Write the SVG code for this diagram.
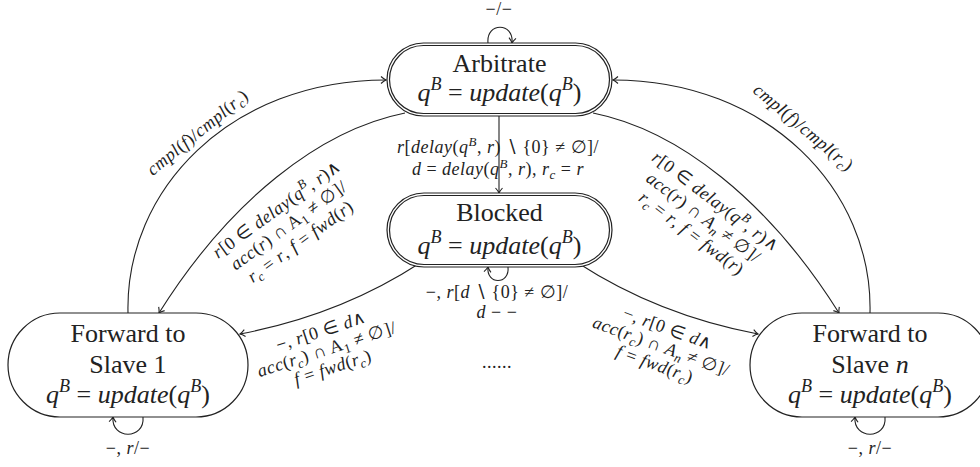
<svg xmlns="http://www.w3.org/2000/svg" width="980" height="467" viewBox="0 0 980 467">
<style>
.n{fill:#fff;stroke:#222;stroke-width:1.2}
.e{fill:none;stroke:#222;stroke-width:1.1;marker-end:url(#a)}
.t{font-size:26px;text-anchor:middle}
.l{font-size:18px;text-anchor:middle;letter-spacing:0.5px}
.i{font-style:italic}
.s{font-size:18px;font-style:italic}
.ss{font-size:13px}
</style>
<defs>
<marker id="a" viewBox="-6 -5 7 10" refX="0" refY="0" markerWidth="7" markerHeight="10" orient="auto" markerUnits="userSpaceOnUse">
<path d="M-5,-3.5 Q-2,-0.8 0,0 Q-2,0.8 -5,3.5" fill="none" stroke="#222" stroke-width="1.1"/>
</marker>
</defs>
<rect width="980" height="467" fill="#fff"/>

<g id="connectors">
<path class="e" d="M499,116 L499,193"/>
<path class="e" d="M128,313 C125,190 230,80 386,80"/>
<path class="e" d="M870,313 C873,190 768,80 613,80"/>
<path class="e" d="M405,113 C320,130 230,200 159,313"/>
<path class="e" d="M593,113 C678,130 768,200 839,313"/>
<path class="e" d="M420,263 Q340,315 240,334"/>
<path class="e" d="M578,263 Q658,315 758,334"/>
<path class="e" d="M488,43 C486,22 514,22 512,43"/>
<path class="e" d="M508,267 C510,285 486,285 488,267"/>
<path class="e" d="M143,417 C145,440 111,440 113,417"/>
<path class="e" d="M885,417 C887,440 853,440 855,417"/>
</g>

<g font-family="'Liberation Serif', 'Times New Roman', serif" fill="#222">
<g id="arbitrate">
<rect class="n" x="387" y="43" width="225" height="73" rx="36.5"/>
<rect class="n" x="389.5" y="45.5" width="220" height="68" rx="34"/>
<text class="t" x="499.5" y="72">Arbitrate</text>
<text class="t" x="499.5" y="101"><tspan class="i">q</tspan><tspan class="s" dy="-11">B</tspan><tspan dy="11"> = </tspan><tspan class="i">update</tspan>(<tspan class="i">q</tspan><tspan class="s" dy="-11">B</tspan><tspan dy="11">)</tspan></text>
</g>

<g id="blocked">
<rect class="n" x="387" y="193" width="225" height="74" rx="37"/>
<rect class="n" x="389.5" y="195.5" width="220" height="69" rx="34.5"/>
<text class="t" x="499.5" y="221">Blocked</text>
<text class="t" x="499.5" y="254"><tspan class="i">q</tspan><tspan class="s" dy="-11">B</tspan><tspan dy="11"> = </tspan><tspan class="i">update</tspan>(<tspan class="i">q</tspan><tspan class="s" dy="-11">B</tspan><tspan dy="11">)</tspan></text>
</g>

<g id="slave1">
<rect class="n" x="8" y="313" width="240" height="104" rx="52"/>
<text class="t" x="128" y="342">Forward to</text>
<text class="t" x="128" y="373">Slave 1</text>
<text class="t" x="128" y="403"><tspan class="i">q</tspan><tspan class="s" dy="-11">B</tspan><tspan dy="11"> = </tspan><tspan class="i">update</tspan>(<tspan class="i">q</tspan><tspan class="s" dy="-11">B</tspan><tspan dy="11">)</tspan></text>
</g>

<g id="slaven">
<rect class="n" x="750" y="313" width="240" height="104" rx="52"/>
<text class="t" x="870" y="342">Forward to</text>
<text class="t" x="870" y="373">Slave <tspan class="i">n</tspan></text>
<text class="t" x="870" y="403"><tspan class="i">q</tspan><tspan class="s" dy="-11">B</tspan><tspan dy="11"> = </tspan><tspan class="i">update</tspan>(<tspan class="i">q</tspan><tspan class="s" dy="-11">B</tspan><tspan dy="11">)</tspan></text>
</g>

<g id="labels">
<text class="l" x="499" y="15">−/−</text>
<text class="l" x="128" y="454">−, <tspan class="i">r</tspan>/−</text>
<text class="l" x="870" y="454">−, <tspan class="i">r</tspan>/−</text>
<text class="l" x="497" y="368">......</text>

<text class="l" x="498" y="153"><tspan class="i">r</tspan>[<tspan class="i">delay</tspan>(<tspan class="i">q</tspan><tspan class="ss i" dy="-7">B</tspan><tspan dy="7">, </tspan><tspan class="i">r</tspan>) ∖ {0} ≠ ∅]/</text>
<text class="l" x="498" y="175"><tspan class="i">d</tspan> = <tspan class="i">delay</tspan>(<tspan class="i">q</tspan><tspan class="ss i" dy="-7">B</tspan><tspan dy="7">, </tspan><tspan class="i">r</tspan>), <tspan class="i">r</tspan><tspan class="ss i" dy="4">c</tspan><tspan dy="-4"> = </tspan><tspan class="i">r</tspan></text>

<text class="l" x="497" y="298">−, <tspan class="i">r</tspan>[<tspan class="i">d</tspan> ∖ {0} ≠ ∅]/</text>
<text class="l" x="497" y="318"><tspan class="i">d</tspan> − −</text>

<g transform="translate(198,133) rotate(-39)">
<text class="l" x="0" y="5"><tspan class="i">cmpl</tspan>(<tspan class="i">f</tspan>)/<tspan class="i">cmpl</tspan>(<tspan class="i">r</tspan><tspan class="ss i" dy="4">c</tspan><tspan dy="-4">)</tspan></text>
</g>
<g transform="translate(803,128) rotate(40)">
<text class="l" x="0" y="5"><tspan class="i">cmpl</tspan>(<tspan class="i">f</tspan>)/<tspan class="i">cmpl</tspan>(<tspan class="i">r</tspan><tspan class="ss i" dy="4">c</tspan><tspan dy="-4">)</tspan></text>
</g>

<g transform="translate(289,226) rotate(-36)">
<text class="l" x="0" y="-15"><tspan class="i">r</tspan>[0 ∈ <tspan class="i">delay</tspan>(<tspan class="i">q</tspan><tspan class="ss i" dy="-7">B</tspan><tspan dy="7">, </tspan><tspan class="i">r</tspan>)∧</text>
<text class="l" x="0" y="5"><tspan class="i">acc</tspan>(<tspan class="i">r</tspan>) ∩ A<tspan class="ss" dy="4">1</tspan><tspan dy="-4"> ≠ ∅]/</tspan></text>
<text class="l" x="0" y="25"><tspan class="i">r</tspan><tspan class="ss i" dy="4">c</tspan><tspan dy="-4"> = </tspan><tspan class="i">r</tspan>, <tspan class="i">f</tspan> = <tspan class="i">fwd</tspan>(<tspan class="i">r</tspan>)</text>
</g>

<g transform="translate(703,218) rotate(37)">
<text class="l" x="0" y="-15"><tspan class="i">r</tspan>[0 ∈ <tspan class="i">delay</tspan>(<tspan class="i">q</tspan><tspan class="ss i" dy="-7">B</tspan><tspan dy="7">, </tspan><tspan class="i">r</tspan>)∧</text>
<text class="l" x="0" y="5"><tspan class="i">acc</tspan>(<tspan class="i">r</tspan>) ∩ <tspan class="i">A</tspan><tspan class="ss i" dy="4">n</tspan><tspan dy="-4"> ≠ ∅]/</tspan></text>
<text class="l" x="0" y="25"><tspan class="i">r</tspan><tspan class="ss i" dy="4">c</tspan><tspan dy="-4"> = </tspan><tspan class="i">r</tspan>, <tspan class="i">f</tspan> = <tspan class="i">fwd</tspan>(<tspan class="i">r</tspan>)</text>
</g>

<g transform="translate(327,350) rotate(-18)">
<text class="l" x="0" y="-14">−, <tspan class="i">r</tspan>[0 ∈ <tspan class="i">d</tspan>∧</text>
<text class="l" x="0" y="5"><tspan class="i">acc</tspan>(<tspan class="i">r</tspan><tspan class="ss i" dy="4">c</tspan><tspan dy="-4">) ∩ A</tspan><tspan class="ss" dy="4">1</tspan><tspan dy="-4"> ≠ ∅]/</tspan></text>
<text class="l" x="0" y="24"><tspan class="i">f</tspan> = <tspan class="i">fwd</tspan>(<tspan class="i">r</tspan><tspan class="ss i" dy="4">c</tspan><tspan dy="-4">)</tspan></text>
</g>

<g transform="translate(661,347) rotate(20)">
<text class="l" x="0" y="-14">−, <tspan class="i">r</tspan>[0 ∈ <tspan class="i">d</tspan>∧</text>
<text class="l" x="0" y="5"><tspan class="i">acc</tspan>(<tspan class="i">r</tspan><tspan class="ss i" dy="4">c</tspan><tspan dy="-4">) ∩ </tspan><tspan class="i">A</tspan><tspan class="ss i" dy="4">n</tspan><tspan dy="-4"> ≠ ∅]/</tspan></text>
<text class="l" x="0" y="24"><tspan class="i">f</tspan> = <tspan class="i">fwd</tspan>(<tspan class="i">r</tspan><tspan class="ss i" dy="4">c</tspan><tspan dy="-4">)</tspan></text>
</g>
</g>
</g>
</svg>
